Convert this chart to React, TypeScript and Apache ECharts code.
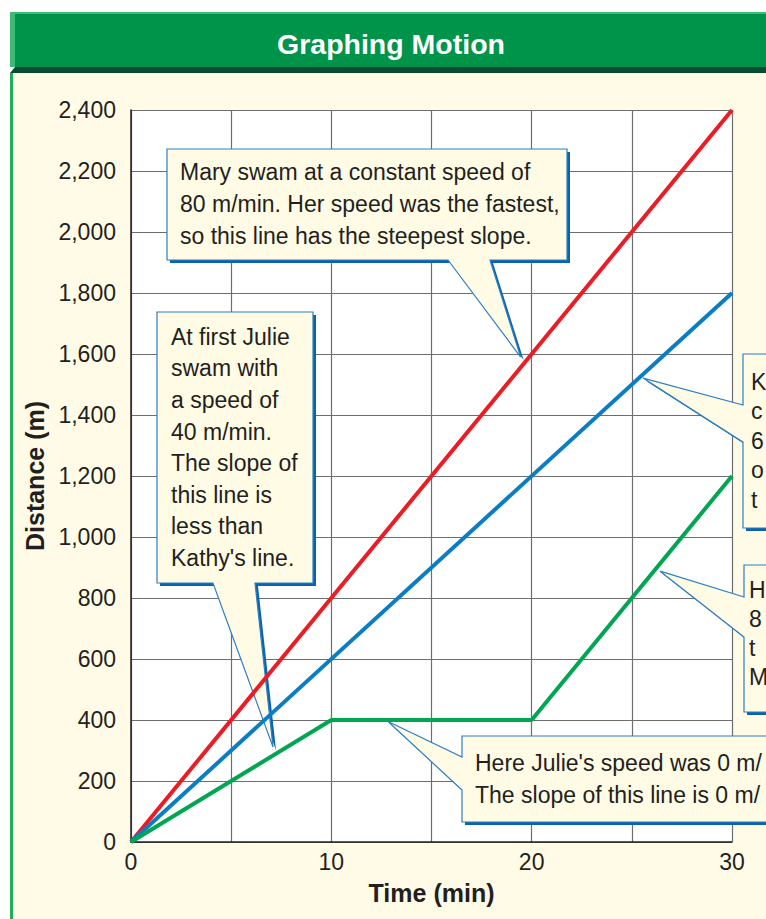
import React, { useEffect, useRef } from "react";
import * as echarts from "echarts";

// ---- data ----
const maryTime = [0, 30];
const maryDist = [0, 2400];
const kathyTime = [0, 30];
const kathyDist = [0, 1800];
const julieTime = [0, 10, 20, 30];
const julieDist = [0, 400, 400, 1200];
const timeTickLabels = [0, 10, 20, 30];

const FONT = "'Liberation Sans', Arial, sans-serif";
const TEXT = "#231f20";

type Callout = {
  box: [number, number, number, number];
  side: "bottom" | "left";
  base: [number, number];
  tip: [number, number]; // data coords
  text: string;
  textPos: [number, number];
  lineHeight: number;
};

// texts on the right are cut by the picture's edge, as in the reference
const callouts: Callout[] = [
  {
    box: [167, 149, 567, 260],
    side: "bottom",
    base: [448, 490],
    tip: [19.45, 1590],
    text: "Mary swam at a constant speed of\n80 m/min. Her speed was the fastest,\nso this line has the steepest slope.",
    textPos: [180, 156],
    lineHeight: 32,
  },
  {
    box: [157, 312, 313, 583],
    side: "bottom",
    base: [213, 255],
    tip: [7.09, 311],
    text: "At first Julie\nswam with\na speed of\n40 m/min.\nThe slope of\nthis line is\nless than\nKathy's line.",
    textPos: [171, 321],
    lineHeight: 31.6,
  },
  {
    box: [743, 354, 820, 528],
    side: "left",
    base: [405, 442],
    tip: [25.56, 1521],
    text: "K\nc\n6\no\nt",
    textPos: [751, 367],
    lineHeight: 29.5,
  },
  {
    box: [744, 565, 820, 712],
    side: "left",
    base: [597, 637],
    tip: [26.41, 888],
    text: "H\n8\nt\nM",
    textPos: [749, 575],
    lineHeight: 29,
  },
  {
    box: [462, 736, 820, 822],
    side: "left",
    base: [757, 790],
    tip: [12.83, 395],
    text: "Here Julie's speed was 0 m/\nThe slope of this line is 0 m/",
    textPos: [475, 747],
    lineHeight: 32,
  },
];

function calloutPoints(c: Callout, tip: number[]): number[][] {
  const [x0, y0, x1, y1] = c.box;
  if (c.side === "bottom") {
    return [
      [x0, y0],
      [x1, y0],
      [x1, y1],
      [c.base[1], y1],
      [tip[0], tip[1]],
      [c.base[0], y1],
      [x0, y1],
    ];
  }
  return [
    [x0, y0],
    [x1, y0],
    [x1, y1],
    [x0, y1],
    [x0, c.base[1]],
    [tip[0], tip[1]],
    [x0, c.base[0]],
  ];
}

export default function App() {
  const ref = useRef<HTMLDivElement>(null);

  useEffect(() => {
    if (!ref.current) return;
    const chart = echarts.init(ref.current, null, { renderer: "svg" });
    const zip = (a: number[], b: number[]) => a.map((v, i) => [v, b[i]]);
    chart.setOption({
      animation: false,
      backgroundColor: "transparent",
      grid: {
        left: 131,
        right: 34,
        top: 110,
        bottom: 77,
        show: true,
        backgroundColor: "#ffffff",
        borderWidth: 0,
      },
      xAxis: {
        type: "value",
        min: 0,
        max: 30,
        interval: 5,
        axisLine: { show: true, onZero: false, lineStyle: { color: TEXT, width: 1.5 } },
        axisTick: { show: false },
        splitLine: { show: true, lineStyle: { color: "#6d6e71", width: 1.2 } },
        axisLabel: {
          formatter: (v: number) => (timeTickLabels.includes(v) ? String(v) : ""),
          fontSize: 23,
          color: TEXT,
          fontFamily: FONT,
          margin: 8,
        },
        name: "Time (min)",
        nameLocation: "middle",
        nameGap: 38,
        nameTextStyle: { fontWeight: "bold", fontSize: 25, fontFamily: FONT, color: TEXT },
      },
      yAxis: {
        type: "value",
        min: 0,
        max: 2400,
        interval: 200,
        axisLine: { show: true, onZero: false, lineStyle: { color: TEXT, width: 1.5 } },
        axisTick: { show: false },
        splitLine: { show: true, lineStyle: { color: "#6d6e71", width: 1.2 } },
        axisLabel: {
          formatter: (v: number) => v.toLocaleString("en-US"),
          fontSize: 23,
          color: TEXT,
          fontFamily: FONT,
          margin: 15,
        },
        name: "Distance (m)",
        nameLocation: "middle",
        nameGap: 82,
        nameTextStyle: { fontWeight: "bold", fontSize: 25, fontFamily: FONT, color: TEXT },
      },
      series: [
        {
          name: "Mary",
          type: "line",
          data: zip(maryTime, maryDist),
          showSymbol: false,
          symbol: "none",
          lineStyle: { color: "#ec1c24", width: 4 },
          z: 3,
        },
        {
          name: "Kathy",
          type: "line",
          data: zip(kathyTime, kathyDist),
          showSymbol: false,
          symbol: "none",
          lineStyle: { color: "#0a7dc4", width: 4 },
          z: 4,
        },
        {
          name: "Julie",
          type: "line",
          data: zip(julieTime, julieDist),
          showSymbol: false,
          symbol: "none",
          lineStyle: { color: "#00a651", width: 4 },
          z: 5,
        },
      ],
    });

    const elements: any[] = [
      {
        type: "text",
        x: 391,
        y: 44,
        z: 10,
        style: {
          text: "Graphing Motion",
          fill: "#ffffff",
          font: `bold 28.5px ${FONT}`,
          align: "center",
          verticalAlign: "middle",
        },
      },
    ];
    callouts.forEach((c) => {
      const tip = chart.convertToPixel({ gridIndex: 0 }, c.tip) as number[];
      const pts = calloutPoints(c, tip);
      elements.push({
        type: "polygon",
        z: 1,
        x: 3,
        y: 3,
        shape: { points: pts },
        style: { fill: "#0b63ae" },
      });
      elements.push({
        type: "polygon",
        z: 1,
        shape: { points: pts },
        style: { fill: "#fffbe5", stroke: "#2e7fc4", lineWidth: 1.2 },
      });
      elements.push({
        type: "text",
        z: 1,
        x: c.textPos[0],
        y: c.textPos[1],
        style: {
          text: c.text,
          fill: TEXT,
          font: `23px ${FONT}`,
          lineHeight: c.lineHeight,
          align: "left",
          verticalAlign: "top",
        },
      });
    });
    chart.setOption({ graphic: { elements } });

    return () => chart.dispose();
  }, []);

  return (
    <div
      style={{
        position: "fixed",
        left: 0,
        top: 0,
        width: 766,
        height: 919,
        background: "#ffffff",
        overflow: "hidden",
      }}
    >
      <div
        style={{
          position: "absolute",
          left: 10,
          top: 12,
          width: 756,
          height: 55,
          background: "#00944a",
          borderTop: "2px solid #3dba74",
          borderLeft: "5px solid #3dba74",
          boxSizing: "border-box",
        }}
      />
      <div
        style={{
          position: "absolute",
          left: 10,
          top: 67,
          width: 756,
          height: 6,
          background: "#0c4b33",
          clipPath: "polygon(5px 0, 100% 0, 100% 100%, 0 100%)",
        }}
      />
      <div
        style={{
          position: "absolute",
          left: 10,
          top: 73,
          width: 756,
          height: 846,
          background: "#fffbe6",
          borderLeft: "3px solid #1eae5c",
          boxSizing: "border-box",
        }}
      />
      <div
        ref={ref}
        style={{ position: "absolute", left: 0, top: 0, width: 766, height: 919, overflow: "hidden" }}
      />
    </div>
  );
}
